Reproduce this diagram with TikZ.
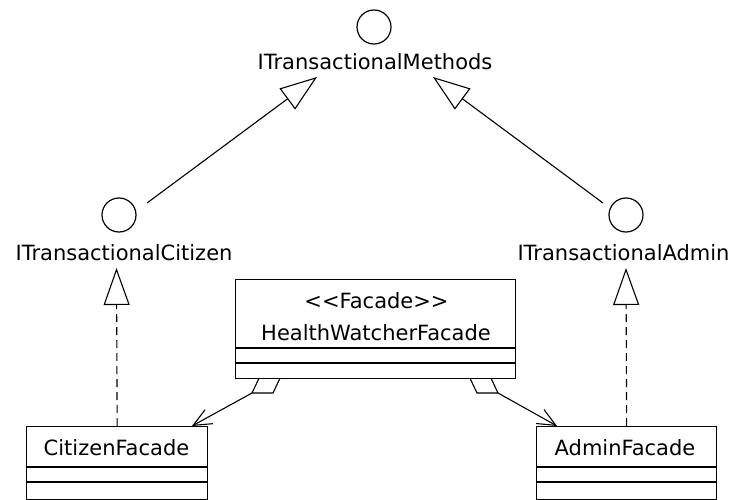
\documentclass[tikz,border=0pt]{standalone}
\usepackage{fontspec}
\setmainfont{DejaVu Sans}
\usetikzlibrary{arrows.meta}
\begin{document}
\begin{tikzpicture}[x=1pt,y=-1pt,
  every node/.style={font=\fontsize{21}{25}\selectfont, inner sep=0pt},
  lolli/.style={draw, circle, minimum size=34pt, line width=1.2pt},
  classbox/.style={draw, rectangle, line width=1.3pt, fill=white, anchor=north west},
  gen/.style={line width=1.1pt, -{Triangle[open, length=37pt, width=26pt, fill=white]}},
  realize/.style={gen, dash pattern=on 8pt off 5pt},
  agg/.style={line width=1.1pt, -{Straight Barb[length=18pt, width=16pt]}},
  diam/.style={draw, line width=1.1pt, fill=white},
  compline/.style={line width=1.3pt}
]
\useasboundingbox (0,0) rectangle (733,500);

% interfaces
\node[lolli] (cm) at (374,27) {};
\node[anchor=base] (lm) at (375,70) {ITransactionalMethods};
\node[lolli] (cc) at (119,215) {};
\node[anchor=base] (lc) at (124,260) {ITransactionalCitizen};
\node[lolli] (ca) at (626,215) {};
\node[anchor=base] (la) at (623.5,260) {ITransactionalAdmin};

% generalizations
\coordinate (g1s) at (147,203);
\coordinate (g1t) at (317,77);
\coordinate (g2s) at (603,203);
\coordinate (g2t) at (433,77);
\draw[gen] (g1s) -- (g1t);
\draw[gen] (g2s) -- (g2t);

% aggregation diamonds (drawn below the facade box)
\draw[diam] (282,374) coordinate (d1n) -- (273,393) -- (252,393) coordinate (d1f) -- (261,374) -- cycle;
\draw[diam] (468,374) coordinate (d2n) -- (477,393) -- (498,393) coordinate (d2f) -- (489,374) -- cycle;

% facade box
\node[classbox, minimum width=280pt, minimum height=99pt] (hwf) at (235,279) {};
\draw[compline] (hwf.west |- 0,348) -- (hwf.east |- 0,348);
\draw[compline] (hwf.west |- 0,363) -- (hwf.east |- 0,363);
\node[anchor=base] (hs) at (376.5,308) {<\kern0pt<Facade>\kern0pt>};
\node[anchor=base] (hn) at (376,340) {HealthWatcherFacade};

% citizen facade
\node[classbox, minimum width=181pt, minimum height=72.5pt] (cf) at (26,426) {};
\draw[compline] (cf.west |- 0,467) -- (cf.east |- 0,467);
\draw[compline] (cf.west |- 0,482) -- (cf.east |- 0,482);
\node[anchor=base] (cft) at (116.5,455) {CitizenFacade};

% admin facade
\node[classbox, minimum width=180pt, minimum height=72.5pt] (af) at (536,426) {};
\draw[compline] (af.west |- 0,467) -- (af.east |- 0,467);
\draw[compline] (af.west |- 0,482) -- (af.east |- 0,482);
\node[anchor=base] (aft) at (625,455) {AdminFacade};

% realizations
\coordinate (r1t) at (116.5,268);
\coordinate (r2t) at (626,268);
\draw[realize] (cf.north) -- (r1t);
\draw[realize] (af.north) -- (r2t);

% aggregation lines
\coordinate (a1) at (192,426);
\coordinate (a2) at (557,426);
\draw[agg] (d1f) -- (a1);
\draw[agg] (d2f) -- (a2);
\end{tikzpicture}
\end{document}
